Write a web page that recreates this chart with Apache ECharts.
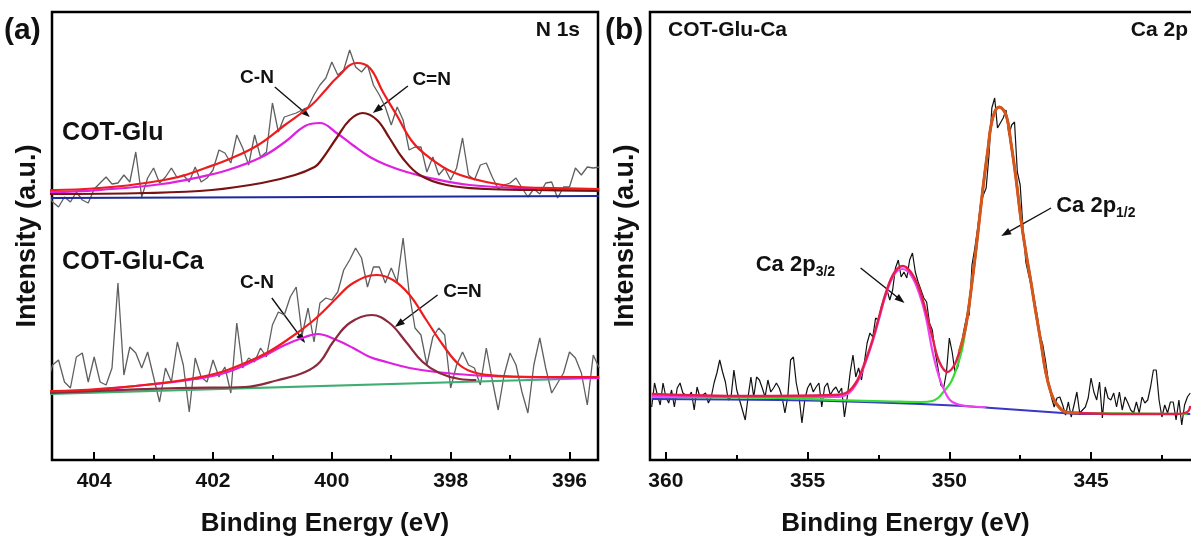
<!DOCTYPE html>
<html><head><meta charset="utf-8">
<script src="https://cdn.jsdelivr.net/npm/echarts@6/dist/echarts.min.js"></script>
<style>html,body{margin:0;padding:0;background:#fff;overflow:hidden}#c{width:1191px;height:537px}</style>
</head><body><div id="c"></div>
<script>
// ---------- DATA (intensity in arbitrary units) ----------
// N 1s raw spectra: energy grid start/step
const n1sStart = 404.8, n1sStep = 0.1;
const gluRaw = [268,258,253,263,258,268,260,257,271,277,283,276,277,285,278,308,263,282,292,277,283,292,282,285,278,293,278,282,290,310,307,297,325,312,295,325,303,308,357,328,343,345,347,350,353,365,375,
382,398,385,390,410,393,388,395,375,365,353,335,353,340,310,313,313,288,303,285,292,280,292,322,285,280,295,297,283,271,275,277,282,272,263,271,266,277,278,262,273,273,292,285,293,292,293];
const gluCaRaw = [75,95,100,78,72,103,107,78,103,78,75,92,177,85,113,107,92,108,83,58,92,78,118,95,48,102,83,78,100,83,93,67,137,92,102,98,112,103,135,148,145,163,173,125,152,118,157,
162,160,168,190,200,212,202,173,193,193,177,192,178,222,168,132,125,95,123,132,125,72,95,108,95,92,75,112,80,50,85,107,95,68,47,95,122,92,67,77,87,108,102,87,55,105,92];
// N 1s fitted components [binding energy, intensity]
const gluBg = [[404.8,262],[400,263],[395.5,264]];
const gluCN = [[404.8,268],[404.66,268],[403.7,271],[402.86,276],[402.3,282],[401.75,290],[401.18,303],[400.79,318],[400.45,334],[400.2,337],[399.92,327],[399.65,315],[399.36,303],[399.08,295],[398.74,288],[398.35,282],[397.68,275],[396.84,272],[395.5,270]];
const gluCeqN = [[404.8,266],[403.14,267],[402.02,270],[401.18,277],[400.62,285],[400.29,293],[400.2,298],[399.92,322],[399.7,340],[399.48,347],[399.24,340],[399.03,322],[398.81,302],[398.52,285],[398.07,275],[397.4,271],[396.55,270],[395.5,269]];
const gluFit = [[404.8,270],[404.66,270],[403.7,273],[403.14,277],[402.59,283],[402.13,292],[401.68,302],[401.24,315],[400.79,335],[400.34,355],[400.12,369],[399.92,382],[399.58,397],[399.36,392],[399.14,368],[398.91,345],[398.64,318],[398.35,302],[397.97,288],[397.4,278],[396.84,273],[396.29,272],[395.5,271]];
const gluCaBg = [[404.8,66],[395.5,82]];
const gluCaCN = [[404.8,68],[404.66,68],[403.14,75],[402.3,81],[401.75,88],[401.18,103],[400.79,115],[400.45,123],[400.24,126],[399.92,120],[399.64,112],[399.36,103],[399.08,98],[398.69,92],[398.24,88],[397.68,85],[396.84,83],[395.5,82]];
const gluCaCeqN = [[404.8,67],[402.58,72],[401.46,73],[400.9,80],[400.45,88],[400.2,98],[399.98,118],[399.7,137],[399.33,145],[399.03,137],[398.75,118],[398.47,98],[398.19,87],[397.85,81],[397.57,80]];
const gluCaFit = [[404.8,69],[404.66,69],[403.7,72],[402.86,77],[402.3,82],[401.86,88],[401.46,97],[401.07,108],[400.68,123],[400.34,138],[400.12,150],[399.92,162],[399.64,177],[399.25,185],[398.97,180],[398.69,165],[398.41,140],[398.13,115],[397.85,95],[397.57,87],[397.12,84],[396.29,83],[395.5,83]];
// Ca 2p raw spectrum
const caStart = 360.5, caStep = 0.1;
const caRaw = [53,77,65,55,77,63,57,70,53,72,
77,67,65,63,68,50,73,63,65,67,
57,63,77,87,100,88,78,60,63,90,
70,60,50,40,63,83,63,83,80,72,
63,80,68,72,77,72,63,47,63,100,
103,77,63,37,60,72,77,68,73,77,
53,73,77,65,70,73,67,72,43,63,
87,105,83,92,80,97,117,127,123,142,
140,153,162,170,160,170,192,200,183,188,
182,200,207,188,178,170,162,158,
137,130,108,92,75,72,88,122,108,88,
93,108,128,142,145,195,212,232,255,265,
272,305,352,362,332,337,342,350,325,335,
338,288,275,232,198,185,173,160,145,125,
115,98,78,63,53,62,63,55,45,58,
43,55,68,47,50,53,62,82,68,60,
78,42,73,62,60,67,53,68,50,63,
57,50,47,58,47,63,57,60,73,90,
90,60,43,55,47,58,58,40,60,35,
55,63,67];
// Ca 2p fitted components
const caBg = [[360.5,61],[356,60],[353,58],[351,56],[349.5,54],[348.5,52],[347.5,50],[346.5,48],[346,47],[345.5,46],[341.5,46]];
const ca32 = [[360.5,64],[357.11,63],[354.06,63],[353.59,66],[353.24,78],[352.95,98],[352.71,118],[352.48,141],[352.24,165],[351.95,185],[351.65,191],[351.36,185],[351.07,167],[350.82,142],[350.59,108],[350.35,82],[350.1,65],[349.89,58],[349.41,54],[348.7,53]];
const ca12 = [[360.5,63],[356,62],[354,60],[352,58.5],[351,58],[350.6,59],[350.4,62],[350.24,67],[349.94,78],[349.71,95],[349.54,112],[349.41,135],[349.18,182],[349.0,225],[348.83,268],[348.65,308],[348.47,342],[348.24,353],[348.0,345],[347.83,318],[347.65,282],[347.48,242],[347.3,208],[347.12,178],[346.95,148],[346.77,118],[346.6,88],[346.42,68],[346.24,57],[345.89,48],[345.42,47],[341.6,46]];
const caFit = [[360.5,66],[357.11,64],[354.06,65],[353.59,68],[353.24,80],[352.95,100],[352.71,120],[352.48,143],[352.24,167],[351.95,187],[351.65,194],[351.36,188],[351.07,172],[350.82,148],[350.59,122],[350.35,98],[350.06,88],[349.82,95],[349.65,108],[349.41,135],[349.18,182],[349.0,225],[348.83,268],[348.65,308],[348.47,342],[348.24,353],[348.0,345],[347.83,318],[347.65,282],[347.48,242],[347.3,208],[347.12,178],[346.95,148],[346.77,118],[346.6,88],[346.42,68],[346.24,57],[345.89,48],[345.42,47],[344,46],[342,46],[341.6,48],[341.5,54]];
const caEnvPeak = [[349.65,108],[349.41,135],[349.18,182],[349.0,225],[348.83,268],[348.65,308],[348.47,342],[348.24,353],[348.0,345],[347.83,318],[347.65,282],[347.48,242],[347.3,208],[347.12,178],[346.95,148],[346.77,118],[346.6,88],[346.42,68],[346.24,57],[345.89,48],[345.42,47]];
// tick values
const n1sMajor = [404,402,400,398,396], n1sMinor = [403,401,399,397];
const caMajor = [360,355,350,345], caMinor = [357.5,352.5,347.5,342.5];
// annotations: [text, energy, intensity] and arrows [[E0,v0],[E1,v1]]
const n1sNotes = [['COT-Glu',404.54,327,'left',25],['COT-Glu-Ca',404.54,198,'left',25],['C-N',401.26,382,'center',19],['C=N',398.32,380,'center',19],['C-N',401.26,177,'center',19],['C=N',397.8,168,'center',19]];
const n1sArrows = [[[400.96,373],[400.37,343]],[[398.72,374],[399.31,347]],[[401.01,162],[400.45,117]],[[398.22,165],[398.94,133]]];
const caNotes = [['3/2',356.83,195],['1/2',346.23,254]];
const caArrows = [[[353.13,192],[351.58,157]],[[346.41,252],[348.17,224]]];

// ---------- CHART ----------
const FONT = 'Liberation Sans, Arial, Helvetica, sans-serif';
const chart = echarts.init(document.getElementById('c'), null, {renderer:'canvas'});
function grid(start, step, vals){ return vals.map((v,i)=>[Math.round((start - i*step)*100)/100, v]); }
function xMajor(gi, min, max, ticks, namePad){
  return {gridIndex:gi, type:'value', min:min, max:max, inverse:true, position:'bottom',
    axisLine:{show:false}, splitLine:{show:false},
    axisTick:{show:true, inside:true, length:8, lineStyle:{color:'#000', width:2}, customValues:ticks},
    axisLabel:{show:true, customValues:ticks, fontSize:21, fontWeight:'bold', color:'#111', fontFamily:FONT, margin:11},
    name:'Binding Energy (eV)', nameLocation:'middle', nameGap:51,
    nameTextStyle:{fontSize:26, fontWeight:'bold', color:'#111', fontFamily:FONT, padding:namePad}};
}
function xMinor(gi, min, max, ticks){
  return {gridIndex:gi, type:'value', min:min, max:max, inverse:true, position:'bottom',
    axisLine:{show:false}, splitLine:{show:false},
    axisTick:{show:true, inside:true, length:5, lineStyle:{color:'#000', width:2}, customValues:ticks},
    axisLabel:{show:false}};
}
function yAx(gi){
  return {gridIndex:gi, type:'value', min:0, max:448, axisLine:{show:false}, axisTick:{show:false},
    axisLabel:{show:false}, splitLine:{show:false},
    name:'Intensity (a.u.)', nameLocation:'middle', nameGap:11,
    nameTextStyle:{fontSize:27, fontWeight:'bold', color:'#111', fontFamily:FONT}};
}
function ln(data, xi, yi, color, w, smooth){
  return {type:'line', data:data, xAxisIndex:xi, yAxisIndex:yi, symbol:'none', smooth:smooth,
    lineStyle:{color:color, width:w}, silent:true, clip:true};
}
chart.setOption({
  animation:false,
  backgroundColor:'#fff',
  grid:[
    {left:52, right:593, top:12, bottom:77, outerBoundsMode:'none', containLabel:false, show:true, borderColor:'#000', borderWidth:2.5, backgroundColor:'transparent'},
    {left:650, right:-12, top:12, bottom:77, outerBoundsMode:'none', containLabel:false, show:true, borderColor:'#000', borderWidth:2.5, backgroundColor:'transparent'}
  ],
  xAxis:[xMajor(0,395.52,404.71,n1sMajor,[0,0,0,0]), xMinor(0,395.52,404.71,n1sMinor),
         xMajor(1,341.05,360.56,caMajor,[0,42,0,0]), xMinor(1,341.05,360.56,caMinor)],
  yAxis:[yAx(0), yAx(1)],
  series:[
    ln(grid(n1sStart,n1sStep,gluRaw),0,0,'#5f5f5f',1.3,false),
    ln(grid(n1sStart,n1sStep,gluCaRaw),0,0,'#5f5f5f',1.3,false),
    ln(gluBg,0,0,'#1c2a9c',2,false),
    ln(gluCN,0,0,'#e020e0',2.2,0.4),
    ln(gluCeqN,0,0,'#7a1212',2.2,0.4),
    ln(gluFit,0,0,'#ee1c1c',2.2,0.4),
    ln(gluCaBg,0,0,'#3fae72',2.2,false),
    ln(gluCaCN,0,0,'#e020e0',2.2,0.4),
    ln(gluCaCeqN,0,0,'#8a2a3c',2.2,0.4),
    ln(gluCaFit,0,0,'#ee1c1c',2.2,0.4),
    ln(grid(caStart,caStep,caRaw),2,1,'#111111',1.2,false),
    ln(caBg,2,1,'#3a36c8',2,0.3),
    ln(ca12,2,1,'#33dd33',2.2,0.4),
    ln(ca32,2,1,'#ee44ee',2.2,0.4),
    ln(caFit,2,1,'#e41e4c',2.4,0.4),
    ln(caEnvPeak,2,1,'#d4581c',3,0.4)
  ]
});

// ---------- ANNOTATIONS ----------
function px(xi, yi, p){ return chart.convertToPixel({xAxisIndex:xi, yAxisIndex:yi}, p); }
function txt(x, y, s, size, align){
  return {type:'text', x:x, y:y, silent:true, style:{text:s, fontSize:size, fontWeight:'bold', fontFamily:FONT, fill:'#111', align:align||'left', verticalAlign:'middle', textAlign:align||'left', textVerticalAlign:'middle'}};
}
function arrow(p0, p1){
  const dx=p1[0]-p0[0], dy=p1[1]-p0[1], L=Math.hypot(dx,dy), ux=dx/L, uy=dy/L;
  const hl=10, hw=3.6, bx=p1[0]-ux*hl, by=p1[1]-uy*hl;
  return [
    {type:'line', silent:true, shape:{x1:p0[0],y1:p0[1],x2:bx+ux*2,y2:by+uy*2}, style:{stroke:'#111', lineWidth:1.4}},
    {type:'polygon', silent:true, shape:{points:[[p1[0],p1[1]],[bx-uy*hw,by+ux*hw],[bx+uy*hw,by-ux*hw]]}, style:{fill:'#111'}}
  ];
}
const g = [];
g.push(txt(4,31,'(a)',30,'left'));
g.push(txt(580,30,'N 1s',21,'right'));
g.push(txt(605,31,'(b)',30,'left'));
g.push(txt(668,30,'COT-Glu-Ca',21,'left'));
g.push(txt(1188,30,'Ca 2p',21,'right'));
n1sNotes.forEach(n=>{ const p=px(0,0,[n[1],n[2]]); g.push(txt(p[0],p[1],n[0],n[4],n[3])); });
n1sArrows.forEach(a=>{ arrow(px(0,0,a[0]), px(0,0,a[1])).forEach(e=>g.push(e)); });
caNotes.forEach(n=>{
  const p=px(2,1,[n[1],n[2]]);
  g.push({type:'text', x:p[0], y:p[1], silent:true, style:{
    text:'{m|Ca 2p}{s|'+n[0]+'}', align:'left', verticalAlign:'middle', textAlign:'left', textVerticalAlign:'middle',
    rich:{m:{fontSize:22, fontWeight:'bold', fontFamily:FONT, fill:'#111', color:'#111', lineHeight:28, verticalAlign:'middle'},
          s:{fontSize:14, fontWeight:'bold', fontFamily:FONT, fill:'#111', color:'#111', lineHeight:14, verticalAlign:'bottom'}}}});
});
caArrows.forEach(a=>{ arrow(px(2,1,a[0]), px(2,1,a[1])).forEach(e=>g.push(e)); });
chart.setOption({graphic:g});
</script>
</body></html>
